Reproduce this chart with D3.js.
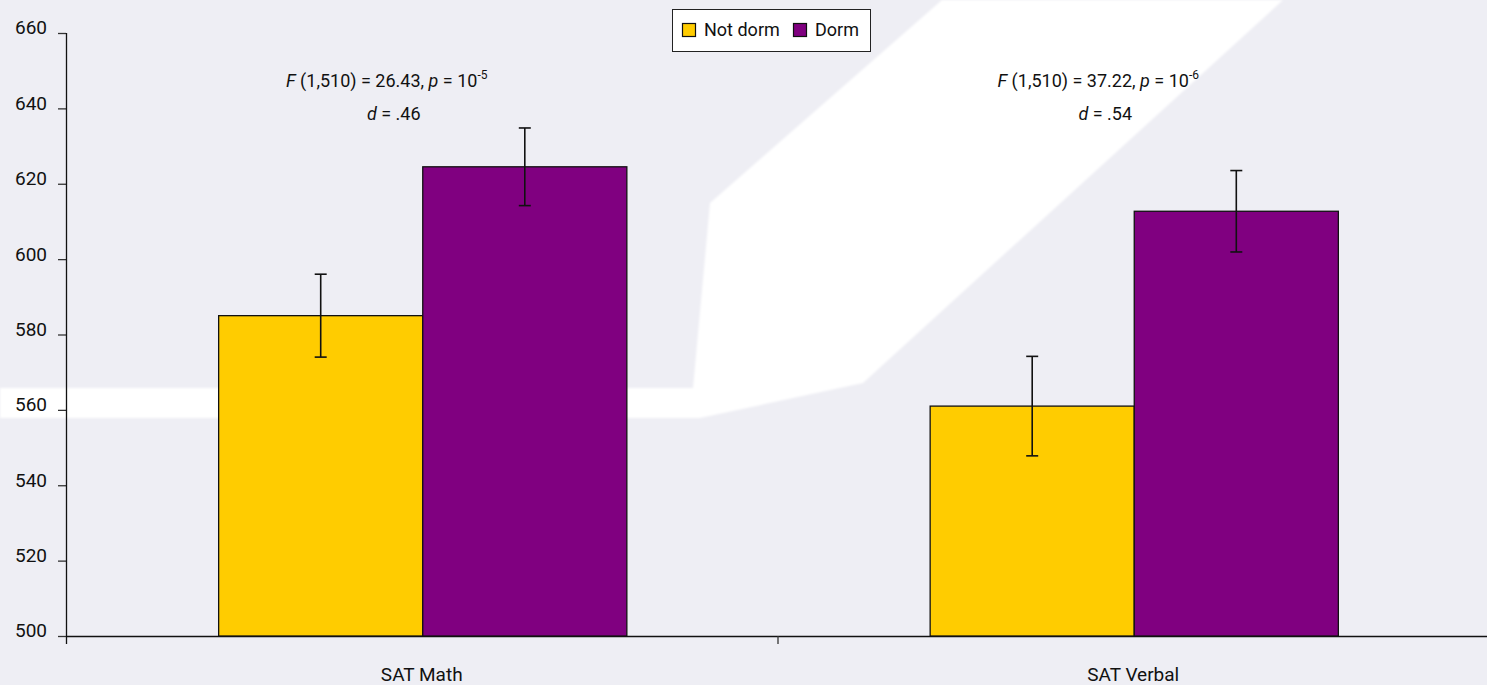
<!DOCTYPE html>
<html>
<head>
<meta charset="utf-8">
<script src="https://cdn.jsdelivr.net/npm/d3@7"></script>
<style>
  html, body { margin: 0; padding: 0; background: #eeeef4; }
  svg { display: block; }
  text { font-family: Roboto, "Liberation Sans", sans-serif; fill: #111; }
</style>
</head>
<body>
<svg id="chart" width="1487" height="685"></svg>
<script>
// Mean SAT scores by residence, with error bars
const categories = ["SAT Math", "SAT Verbal"];
const series = ["Not dorm", "Dorm"];
const notDormMeans = [585, 561];
const dormMeans = [624.5, 612.7];
const notDormErrors = [11, 13.2];
const dormErrors = [10.3, 10.8];
const yTicks = [500, 520, 540, 560, 580, 600, 620, 640, 660];
const fStats = ["26.43", "37.22"];
const pExponents = ["-5", "-6"];
const dValues = [".46", ".54"];
const colors = ["#ffcc00", "#800080"];

const W = 1487, H = 685;
const margin = { left: 66, top: 33, bottom: 636 };
const svg = d3.select("#chart");

// backdrop arrow
svg.append("rect").attr("width", W).attr("height", H).attr("fill", "#eeeef4");
svg.append("defs").append("filter").attr("id", "soft")
  .append("feGaussianBlur").attr("stdDeviation", 1.2);
svg.append("path")
  .attr("d", "M0,388 L693,388 L710,203 L942,0 L1283,0 L863,383 L700,418 L0,418 Z")
  .attr("fill", "#ffffff")
  .attr("filter", "url(#soft)");

const y = d3.scaleLinear().domain([500, 660]).range([636, 33]);
const x0 = d3.scaleBand().domain(categories).range([66, 1489]);
const x1 = d3.scaleBand().domain(series).range([0, x0.bandwidth()]).paddingOuter(0.743).paddingInner(0);

const rows = categories.map((c, i) => ({
  cat: c,
  vals: [
    { s: series[0], v: notDormMeans[i], e: notDormErrors[i] },
    { s: series[1], v: dormMeans[i], e: dormErrors[i] }
  ]
}));

// axes
const yAxis = svg.append("g").attr("transform", "translate(66,0)")
  .call(d3.axisLeft(y).tickValues(yTicks).tickSize(8).tickPadding(11).tickFormat(d3.format("d")));
yAxis.select(".domain").remove();
yAxis.selectAll("line").attr("stroke", "#333").attr("stroke-width", 1.3);
yAxis.selectAll("text").attr("font-size", 19).attr("dy", "0.05em")
  .style("font-family", "Roboto, 'Liberation Sans', sans-serif").attr("fill", "#111");

svg.append("line").attr("x1", 66.5).attr("x2", 66.5).attr("y1", 33).attr("y2", 644)
  .attr("stroke", "#111").attr("stroke-width", 1.3);
svg.append("line").attr("x1", 66).attr("x2", W).attr("y1", 636.5).attr("y2", 636.5)
  .attr("stroke", "#111").attr("stroke-width", 1.3);
// category boundary ticks
svg.selectAll(".xtick").data(categories.slice(1)).join("line")
  .attr("x1", d => x0(d) + 0.5).attr("x2", d => x0(d) + 0.5)
  .attr("y1", 636).attr("y2", 644).attr("stroke", "#333").attr("stroke-width", 1.3);
svg.selectAll(".xlab").data(categories).join("text")
  .attr("x", d => x0(d) + x0.bandwidth() / 2).attr("y", 681)
  .attr("text-anchor", "middle").attr("font-size", 19).text(d => d);

// bars
const groups = svg.selectAll(".grp").data(rows).join("g")
  .attr("transform", d => `translate(${x0(d.cat) + 1},0)`);
groups.selectAll("rect").data(d => d.vals).join("rect")
  .attr("x", d => x1(d.s)).attr("width", x1.bandwidth())
  .attr("y", d => y(d.v)).attr("height", d => y(500) - y(d.v))
  .attr("fill", (d, i) => colors[i]).attr("stroke", "#111").attr("stroke-width", 1.3);

// error bars
const eb = groups.selectAll(".eb").data(d => d.vals).join("g");
eb.append("line")
  .attr("x1", d => x1(d.s) + x1.bandwidth() / 2).attr("x2", d => x1(d.s) + x1.bandwidth() / 2)
  .attr("y1", d => y(d.v + d.e)).attr("y2", d => y(d.v - d.e))
  .attr("stroke", "#111").attr("stroke-width", 1.6);
[1, -1].forEach(sign => {
  eb.append("line")
    .attr("x1", d => x1(d.s) + x1.bandwidth() / 2 - 6).attr("x2", d => x1(d.s) + x1.bandwidth() / 2 + 6)
    .attr("y1", d => y(d.v + sign * d.e)).attr("y2", d => y(d.v + sign * d.e))
    .attr("stroke", "#111").attr("stroke-width", 1.6);
});

// statistics annotations
categories.forEach((c, i) => {
  const cx = x0(c) + x0.bandwidth() / 2;
  const t1 = svg.append("text").attr("x", cx - 35).attr("y", 87)
    .attr("text-anchor", "middle").attr("font-size", 18);
  t1.append("tspan").attr("font-style", "italic").text("F");
  t1.append("tspan").text(` (1,510) = ${fStats[i]}, `);
  t1.append("tspan").attr("font-style", "italic").text("p");
  t1.append("tspan").text(" = 10");
  t1.append("tspan").attr("font-size", 12).attr("dy", -8).text(pExponents[i]);
  const t2 = svg.append("text").attr("x", cx - 28).attr("y", 120)
    .attr("text-anchor", "middle").attr("font-size", 18);
  t2.append("tspan").attr("font-style", "italic").text("d");
  t2.append("tspan").text(` = ${dValues[i]}`);
});

// legend
const lg = svg.append("g");
lg.append("rect").attr("x", 672.5).attr("y", 9.5).attr("width", 198).attr("height", 42)
  .attr("fill", "#fff").attr("stroke", "#222").attr("stroke-width", 1);
const lx = [682, 793];
series.forEach((s, i) => {
  lg.append("rect").attr("x", lx[i] + 0.5).attr("y", 23.5).attr("width", 13).attr("height", 13)
    .attr("fill", colors[i]).attr("stroke", "#111").attr("stroke-width", 1.2);
  lg.append("text").attr("x", lx[i] + 22).attr("y", 36).attr("font-size", 18).text(s);
});
</script>
</body>
</html>
